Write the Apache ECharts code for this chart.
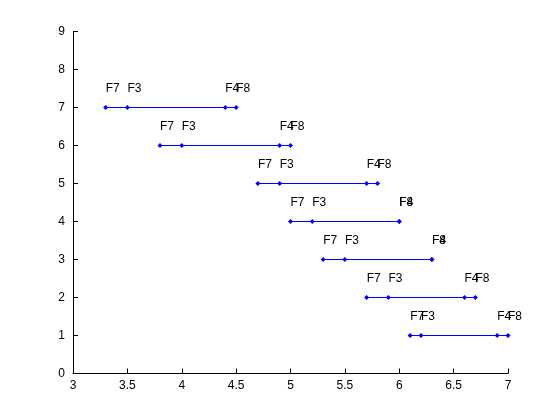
<!DOCTYPE html>
<html>
<head>
<meta charset="utf-8">
<script src="https://cdn.jsdelivr.net/npm/echarts@6/dist/echarts.min.js"></script>
<style>
html,body{margin:0;padding:0;background:#fff;}
#main{width:560px;height:420px;}
</style>
</head>
<body>
<div id="main"></div>
<script>
// point names, same order on every row
var names = ['F7', 'F3', 'F4', 'F8'];
// row levels (y)
var rows = [7, 6, 5, 4, 3, 2, 1];
// x positions of F7, F3, F4, F8 on each row
var xs = [
    [3.3, 3.5, 4.4, 4.5],
    [3.8, 4.0, 4.9, 5.0],
    [4.7, 4.9, 5.7, 5.8],
    [5.0, 5.2, 6.0, 6.0],
    [5.3, 5.5, 6.3, 6.3],
    [5.7, 5.9, 6.6, 6.7],
    [6.1, 6.2, 6.9, 7.0]
];
var xTicks = [3, 3.5, 4, 4.5, 5, 5.5, 6, 6.5, 7];

var myChart = echarts.init(document.getElementById('main'));
var font = 'Liberation Sans, Arial, sans-serif';

var series = [];
for (var i = 0; i < rows.length; i++) {
    var data = [];
    for (var j = 0; j < names.length; j++) {
        data.push({name: names[j], value: [xs[i][j], rows[i]]});
    }
    series.push({
        type: 'line',
        data: data,
        symbol: 'diamond',
        symbolSize: 5,
        showAllSymbol: true,
        lineStyle: {color: '#0000ff', width: 1},
        itemStyle: {color: '#0000ff'},
        label: {
            show: true,
            position: 'top',
            align: 'left',
            verticalAlign: 'bottom',
            distance: 10,
            formatter: '{b}',
            color: '#000',
            fontSize: 12,
            fontFamily: font
        },
        emphasis: {disabled: true},
        animation: false
    });
}

var option = {
    backgroundColor: '#fff',
    // half-pixel top so the horizontal segments land on whole pixels
    grid: {left: 73, right: 52, top: 31.5, bottom: 46.5},
    xAxis: {
        type: 'value',
        min: 3,
        max: 7,
        interval: 0.5,
        axisLine: {show: true, lineStyle: {color: '#000', width: 1}},
        axisTick: {show: true, inside: true, length: 5, lineStyle: {color: '#000'}},
        axisLabel: {
            color: '#000', fontSize: 12, fontFamily: font, margin: 6,
            formatter: function (v) { return xTicks.indexOf(v) >= 0 ? String(v) : ''; }
        },
        splitLine: {show: false}
    },
    yAxis: {
        type: 'value',
        min: 0,
        max: 9,
        interval: 1,
        axisLine: {show: true, lineStyle: {color: '#000', width: 1}},
        axisTick: {show: true, inside: true, length: 5, lineStyle: {color: '#000'}},
        axisLabel: {color: '#000', fontSize: 12, fontFamily: font, margin: 8},
        splitLine: {show: false}
    },
    series: series
};
myChart.setOption(option);
</script>
</body>
</html>
